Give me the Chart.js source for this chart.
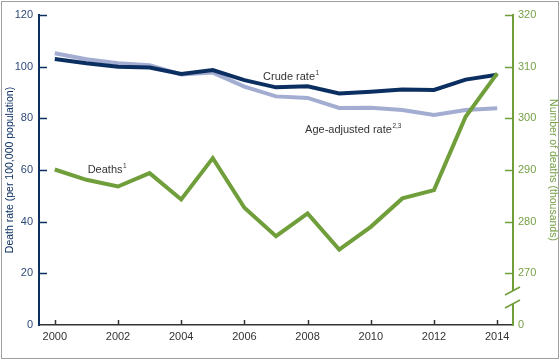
<!DOCTYPE html>
<html>
<head>
<meta charset="utf-8">
<script src="https://cdn.jsdelivr.net/npm/chart.js@4.4.1/dist/chart.umd.min.js"></script>
<style>
  html, body { margin: 0; padding: 0; background: #fff; }
  canvas { display: block; }
</style>
</head>
<body>
<canvas id="chart" width="560" height="360"></canvas>
<script>
// data
const years = [2000, 2001, 2002, 2003, 2004, 2005, 2006, 2007, 2008, 2009, 2010, 2011, 2012, 2013, 2014];
const crudeRate = [103.0, 101.3, 100.0, 99.7, 97.2, 98.7, 94.8, 92.0, 92.4, 89.6, 90.3, 91.2, 91.0, 95.0, 96.9];
const ageAdjustedRate = [105.2, 102.9, 101.3, 100.6, 97.0, 97.7, 92.3, 88.5, 87.9, 84.0, 84.1, 83.2, 81.3, 83.2, 83.9];
const deathsThousands = [290.1, 288.1, 286.8, 289.4, 284.3, 292.3, 282.7, 277.2, 281.6, 274.6, 279.0, 284.5, 286.1, 300.3, 308.7];

const yearTicks = [2000, 2002, 2004, 2006, 2008, 2010, 2012, 2014];
const rateTicks = [0, 20, 40, 60, 80, 100, 120];
const deathTicks = [260, 270, 280, 290, 300, 310, 320]; // 260 sits below the axis break, shown as 0

const NAVY = '#0c2f62';
const LAVENDER = '#a3acd1';
const GREEN = '#6f9e3a';
const FONT = "'Liberation Sans', Arial, sans-serif";

const pts = (vals) => years.map((yr, i) => ({ x: yr, y: vals[i] }));

// series labels, anchored in data units
const seriesLabels = [
  { text: 'Crude rate', sup: '1', x: 2006.59, y: 96.0 },
  { text: 'Age-adjusted rate', sup: '2,3', x: 2007.92, y: 75.5 },
  { text: 'Deaths', sup: '1', x: 2001.04, y: 60.0 },
];

const decor = {
  id: 'decor',
  afterDraw(chart) {
    const { ctx, chartArea: a, scales } = chart;
    const line = (x1, y1, x2, y2) => { ctx.beginPath(); ctx.moveTo(x1, y1); ctx.lineTo(x2, y2); ctx.stroke(); };
    ctx.save();

    // inward tick marks
    ctx.lineWidth = 1.5;
    ctx.strokeStyle = NAVY;
    rateTicks.forEach(v => {
      if (v === 0) return;
      const py = Math.round(scales.y.getPixelForValue(v)) + 0.5;
      line(a.left, py, a.left + 8, py);
    });
    ctx.strokeStyle = GREEN;
    deathTicks.forEach(v => {
      if (v === 260) return;
      const py = Math.round(scales.y1.getPixelForValue(v)) + 0.5;
      line(a.right, py, a.right - 8, py);
    });
    ctx.strokeStyle = '#333';
    yearTicks.forEach(v => {
      const px = Math.round(scales.x.getPixelForValue(v)) + 0.5;
      line(px, a.bottom, px, a.bottom - 5);
    });

    // axis break on the right axis
    const b1 = a.bottom - 34, b2 = a.bottom - 21;
    ctx.fillStyle = '#fff';
    ctx.fillRect(a.right - 3, b1, 6, b2 - b1);
    ctx.strokeStyle = GREEN;
    ctx.lineWidth = 1.5;
    line(a.right - 8, b1 + 4, a.right + 7, b1 - 4);
    line(a.right - 8, b2 + 4, a.right + 7, b2 - 4);

    // series labels with superscripts
    ctx.fillStyle = '#333';
    ctx.textBaseline = 'middle';
    ctx.textAlign = 'left';
    seriesLabels.forEach(l => {
      const px = scales.x.getPixelForValue(l.x);
      const py = scales.y.getPixelForValue(l.y);
      ctx.font = '11px ' + FONT;
      ctx.fillText(l.text, px, py);
      const w = ctx.measureText(l.text).width;
      ctx.font = '6.5px ' + FONT;
      ctx.fillText(l.sup, px + w + 0.5, py - 4);
    });

    // outer frame
    ctx.strokeStyle = '#a0a0a0';
    ctx.lineWidth = 1;
    ctx.strokeRect(1.5, 1.5, chart.width - 3, chart.height - 3);
    ctx.restore();
  }
};

new Chart(document.getElementById('chart'), {
  type: 'line',
  data: {
    datasets: [
      { label: 'Deaths', data: pts(deathsThousands), yAxisID: 'y1', borderColor: GREEN, borderWidth: 4, order: 0 },
      { label: 'Crude rate', data: pts(crudeRate), yAxisID: 'y', borderColor: NAVY, borderWidth: 4, order: 1 },
      { label: 'Age-adjusted rate', data: pts(ageAdjustedRate), yAxisID: 'y', borderColor: LAVENDER, borderWidth: 4, order: 2 },
    ]
  },
  options: {
    responsive: false,
    animation: false,
    events: [],
    layout: { padding: { top: 15, left: 0, right: 0, bottom: 0 } },
    elements: {
      point: { radius: 0 },
      line: { tension: 0, borderJoinStyle: 'miter', borderCapStyle: 'butt' }
    },
    plugins: { legend: { display: false }, tooltip: { enabled: false } },
    scales: {
      x: {
        type: 'linear',
        min: 1999.5,
        max: 2014.5,
        afterBuildTicks: s => { s.ticks = yearTicks.map(v => ({ value: v })); },
        afterFit: s => { s.height = 35; s.paddingLeft = 0; s.paddingRight = 0; },
        grid: { display: false, drawTicks: false },
        border: { display: true, color: '#333', width: 1.5 },
        ticks: { color: '#333', padding: 5, font: { family: FONT, size: 11 }, callback: v => String(v) }
      },
      y: {
        position: 'left',
        min: 0,
        max: 120,
        afterBuildTicks: s => { s.ticks = rateTicks.map(v => ({ value: v })); },
        afterFit: s => { s.width = 39; s.paddingTop = 0; s.paddingBottom = 0; },
        grid: { display: false, drawTicks: false },
        border: { display: true, color: NAVY, width: 2 },
        ticks: { color: '#2f4b78', padding: 6, font: { family: FONT, size: 11 } },
        title: { display: true, text: 'Death rate (per 100,000 population)', color: NAVY, font: { family: FONT, size: 10.5 }, padding: { top: 4, bottom: 0 } }
      },
      y1: {
        position: 'right',
        min: 260,
        max: 320,
        afterBuildTicks: s => { s.ticks = deathTicks.map(v => ({ value: v })); },
        afterFit: s => { s.width = 47; s.paddingTop = 0; s.paddingBottom = 0; },
        grid: { display: false, drawTicks: false },
        border: { display: true, color: GREEN, width: 2 },
        ticks: { color: '#76a046', padding: 5, font: { family: FONT, size: 11 }, callback: v => (v === 260 ? '0' : String(v)) },
        title: { display: true, text: 'Number of deaths (thousands)', color: '#76a046', font: { family: FONT, size: 10.5 }, padding: { top: 1, bottom: 0 } }
      }
    }
  },
  plugins: [decor]
});
</script>
</body>
</html>
